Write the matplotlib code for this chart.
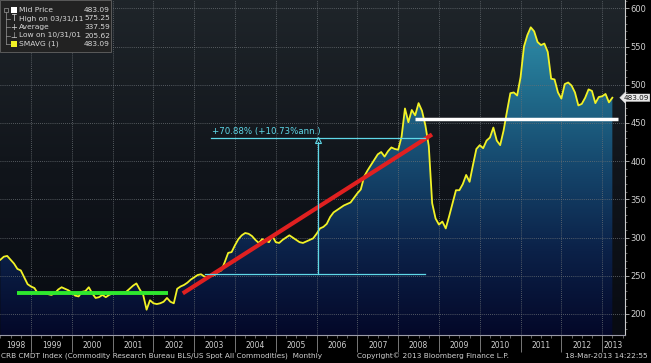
import numpy as np
import matplotlib
matplotlib.use("Agg")
import matplotlib.pyplot as plt
from matplotlib.colors import LinearSegmentedColormap
from matplotlib.patches import Rectangle
from matplotlib.transforms import blended_transform_factory

# ---------------- data (month-end values, Mar-1998 .. Mar-2013) ----------------
start_year = 1998
start_month = 3
crb_values = [
    271, 275, 276, 271, 266, 259, 257, 248, 239, 236,            # 1998 Mar-Dec
    234, 227, 227, 227, 226, 225, 227, 232, 235, 233, 231, 228,  # 1999
    224, 223, 229, 230, 235, 227, 221, 222, 225, 222, 225, 227,  # 2000
    227, 228, 228, 229, 233, 237, 240, 232, 225, 205.62, 218, 214,  # 2001
    213, 214, 216, 221, 216, 214, 233, 236, 238, 241, 245, 248,  # 2002
    251, 252, 249, 248, 250, 251, 255, 257, 268, 280, 281, 290,  # 2003
    298, 303, 306, 305, 302, 297, 293, 298, 296, 294, 302, 294,  # 2004
    293, 297, 300, 303, 300, 297, 294, 293, 295, 297, 299, 305,  # 2005
    312, 314, 318, 327, 333, 336, 339, 342, 344, 346, 352, 358,  # 2006
    363, 380, 388, 395, 402, 409, 412, 406, 413, 418, 416, 415,  # 2007
    432, 469, 451, 467, 460, 476, 466, 447, 420, 345, 325, 317,  # 2008
    321, 312, 328, 345, 362, 362, 370, 382, 373, 395, 416, 421,  # 2009
    417, 427, 431, 444, 427, 421, 440, 465, 489, 490, 486, 510,  # 2010
    550, 565, 575.25, 570, 556, 552, 554, 543, 508, 507, 490, 482,  # 2011
    501, 503, 499, 490, 473, 475, 483, 494, 492, 476, 484, 485,  # 2012
    488, 477, 483.09,                                            # 2013 Jan-Mar
]
year_labels = [str(y) for y in range(1998, 2014)]
y_ticks = [200, 250, 300, 350, 400, 450, 500, 550, 600]

legend_names = ["Mid Price", "High on 03/31/11", "Average", "Low on 10/31/01", "SMAVG (1)"]
legend_values = ["483.09", "575.25", "337.59", "205.62", "483.09"]

# annotation values
flat_line_x = [1998.66, 2002.36]
flat_line_y = [228, 228]
trend_line_x = [2002.72, 2008.83]
trend_line_y = [227, 435]
measure_low = 252.0
measure_high = 430.6
measure_x_low = [2003.26, 2008.66]
measure_x_high = [2003.41, 2008.66]
measure_x_vert = 2006.03
measure_text = "+70.88% (+10.73%ann.)"
level_line_x = [2008.41, 2013.39]
level_line_y = [455, 455]
last_price = 483.09

footer_left = "CRB CMDT Index (Commodity Research Bureau BLS/US Spot All Commodities)  Monthly"
footer_mid = "Copyright\u00a9 2013 Bloomberg Finance L.P."
footer_right = "18-Mar-2013 14:22:55"

NARROW = ["Liberation Sans Narrow", "DejaVu Sans"]

# ---------------- figure ----------------
W, H = 651, 363
fig = plt.figure(figsize=(W / 100, H / 100), dpi=100, facecolor="black")
ax = fig.add_axes([0, 28 / H, 625 / W, 1 - 28 / H])
ax.set_facecolor("black")

xs = np.array([start_year + (start_month + i) / 12 for i in range(len(crb_values))])
vals = np.array(crb_values, dtype=float)

x0, x1 = 1998.24, 2013.56
y0, y1 = 172.5, 611
ax.set_xlim(x0, x1)
ax.set_ylim(y0, y1)

# background gradient
bg_cmap = LinearSegmentedColormap.from_list("bg", ["#080b12", "#11151b", "#1f252a"])
grad = np.linspace(0, 1, 256).reshape(-1, 1)
ax.imshow(grad, extent=[x0, x1, y0, y1], origin="lower", aspect="auto",
          cmap=bg_cmap, zorder=0, interpolation="bilinear")

# area fill gradient
fill_cmap = LinearSegmentedColormap.from_list(
    "fill", ["#040829", "#0b2148", "#15466c", "#22708f", "#3398b2"])
poly = ax.fill_between(xs, vals, y0, color="none", zorder=1)
path = poly.get_paths()[0]
im = ax.imshow(grad, extent=[x0, x1, y0, y1], origin="lower", aspect="auto",
               cmap=fill_cmap, zorder=1, interpolation="bilinear")
im.set_clip_path(path, transform=ax.transData)

# grid
for yr in range(1999, 2014):
    ax.axvline(yr, color="#6a7075", lw=0.6, ls=(0, (1, 1.5)), zorder=2)
for yt in y_ticks:
    ax.axhline(yt, color="#6a7075", lw=0.6, ls=(0, (1, 1.5)), zorder=2)

# main line
ax.plot(xs, vals, color="#f2f226", lw=1.3, zorder=5, solid_joinstyle="round")

# annotations
ax.plot(flat_line_x, flat_line_y, color="#2ee82e", lw=2.8, zorder=6, solid_capstyle="butt")
ax.plot(trend_line_x, trend_line_y, color="#e02020", lw=3.0, zorder=6, solid_capstyle="butt")
ax.plot(measure_x_low, [measure_low, measure_low], color="#5fd8e8", lw=0.9, zorder=6)
ax.plot(measure_x_high, [measure_high, measure_high], color="#5fd8e8", lw=0.9, zorder=6)
ax.plot([measure_x_vert, measure_x_vert], [measure_low, measure_high - 6], color="#5fd8e8", lw=0.9, zorder=6)
ax.plot([measure_x_vert], [measure_high - 3.5], marker="^", ms=4.5, mfc="none",
        mec="#5fd8e8", mew=0.8, zorder=6)
ax.text(measure_x_high[0] + 0.03, measure_high + 2, measure_text, color="#5fd8e8",
        fontsize=6.2, va="bottom", ha="left", zorder=7)
ax.plot(level_line_x, level_line_y, color="white", lw=2.5, zorder=6, solid_capstyle="butt")

# axes styling
ax.yaxis.tick_right()
ax.set_yticks(y_ticks)
ax.set_yticks(np.arange(180, 611, 10), minor=True)
ax.tick_params(axis="y", which="major", colors="#bbbbbb", labelcolor="#d0d0d0",
               labelsize=6, length=3, width=0.6, pad=1)
ax.tick_params(axis="y", which="minor", colors="#888888", length=1.5, width=0.5)
ax.set_xticks(list(range(1999, 2014)))
ax.set_xticklabels([])
ax.set_xticks(np.arange(1998.25, 2013.6, 0.25), minor=True)
ax.tick_params(axis="x", which="major", colors="#8a8a8a", length=12, width=0.6)
ax.tick_params(axis="x", which="minor", colors="#8a8a8a", length=2, width=0.5)
for s in ["top", "left"]:
    ax.spines[s].set_visible(False)
ax.spines["bottom"].set_color("#9a9aa8")
ax.spines["bottom"].set_linewidth(0.8)
ax.spines["right"].set_color("#cccccc")
ax.spines["right"].set_linewidth(0.8)

# year labels centred in visible part of year
trans = blended_transform_factory(ax.transData, ax.transAxes)
for lbl in year_labels:
    yr = int(lbl)
    a, b = max(yr, x0), min(yr + 1, x1)
    ax.text((a + b) / 2, -0.032, lbl, transform=trans, ha="center", va="center",
            color="#d0d0d0", fontsize=5.5, clip_on=False, family=NARROW)

# last price tag
ax.annotate(f"{last_price:.2f}", xy=(0.997, last_price), xycoords=("figure fraction", "data"),
            ha="right", va="center",
            fontsize=5.2, color="#111111", annotation_clip=False, family=NARROW,
            bbox=dict(boxstyle="larrow,pad=0.1", fc="#e8e8e8", ec="#e8e8e8", lw=0.3))

# ---------------- overlay for legend + footer (pixel coordinates) ----------------
ov = fig.add_axes([0, 0, 1, 1], facecolor="none")
ov.set_xlim(0, W)
ov.set_ylim(H, 0)
ov.axis("off")

ov.add_patch(Rectangle((0, 0), 111, 52, fc="#222222", ec="#5a5a5a", lw=0.7, zorder=1))
rows_y = [10, 18.5, 27, 35.5, 44]
tc = "#d8d8d8"
# tree lines
ov.plot([6, 6], [10, 44], color="#9a9a9a", lw=0.5, zorder=2)
ov.add_patch(Rectangle((4, 8), 4, 4, fc="#222222", ec="#9a9a9a", lw=0.5, zorder=3))
for ry in rows_y[1:]:
    ov.plot([6, 10], [ry, ry], color="#9a9a9a", lw=0.5, zorder=2)
# symbols
ov.add_patch(Rectangle((11, 7), 6, 6, fc="white", ec="white", lw=0, zorder=3))
ov.text(14, rows_y[1], "T", color=tc, fontsize=5.5, ha="center", va="center", zorder=3)
ov.text(14, rows_y[2], "+", color=tc, fontsize=6, ha="center", va="center", zorder=3)
ov.text(14, rows_y[3], "\u22a5", color=tc, fontsize=5.5, ha="center", va="center", zorder=3)
ov.add_patch(Rectangle((11, 41), 6, 6, fc="#f2f226", ec="#f2f226", lw=0, zorder=3))
for ry, nm, vv in zip(rows_y, legend_names, legend_values):
    ov.text(19, ry, nm, color=tc, fontsize=5.4, ha="left", va="center", zorder=3, family=NARROW)
    ov.text(110, ry, vv, color=tc, fontsize=5.4, ha="right", va="center", zorder=3, family=NARROW)

ov.text(1, 356, footer_left, color="#d0d0d0", fontsize=5.3, ha="left", va="center", family=NARROW)
ov.text(433, 356, footer_mid, color="#d0d0d0", fontsize=5.3, ha="center", va="center", family=NARROW)
ov.text(648, 356, footer_right, color="#d0d0d0", fontsize=5.3, ha="right", va="center", family=NARROW)

fig.savefig("out.png", dpi=100, facecolor="black")
